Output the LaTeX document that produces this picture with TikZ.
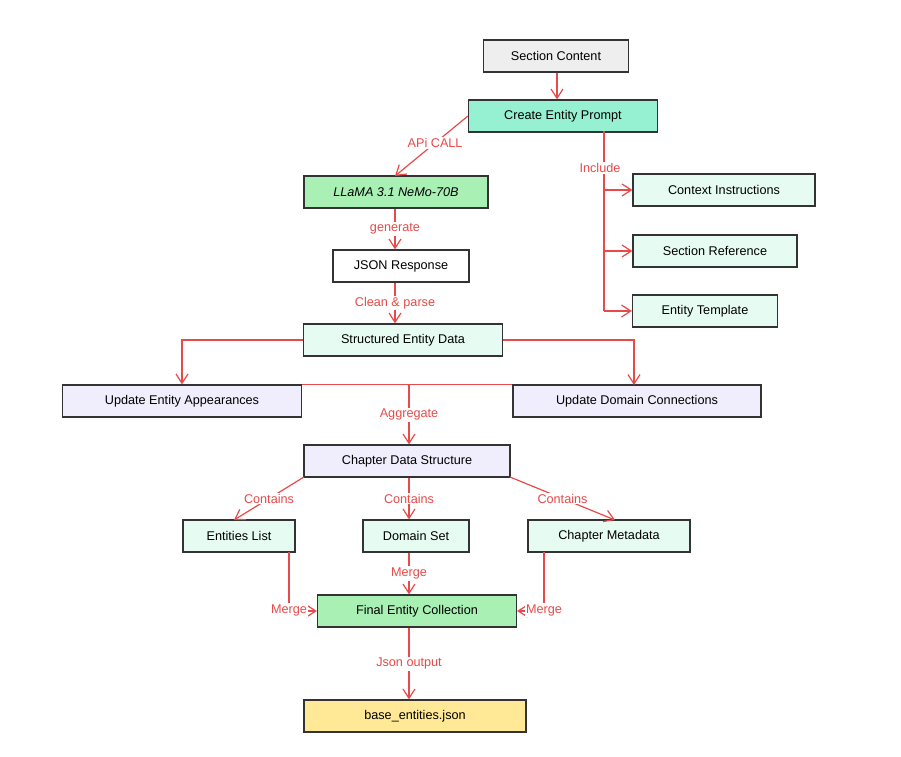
\documentclass[tikz,border=0pt]{standalone}
\usepackage{fontspec}
\setmainfont{Liberation Sans}
\usetikzlibrary{arrows.meta}
\definecolor{ln}{HTML}{E84A4A}
\definecolor{cgrey}{HTML}{EEEEEE}
\definecolor{caqua}{HTML}{96F0D2}
\definecolor{cgreen}{HTML}{A8F0B4}
\definecolor{clight}{HTML}{E6FCF2}
\definecolor{clav}{HTML}{F0EEFC}
\definecolor{cyel}{HTML}{FFE896}
\begin{document}
\begin{tikzpicture}[x=0.75pt,y=-0.75pt,
  box/.style={draw=black!80,line width=0.9pt,minimum height=24pt,inner sep=0pt,font=\fontsize{9.5}{11}\selectfont},
  e/.style={draw=ln,line width=0.9pt,-{Straight Barb[length=7pt,width=9pt]}},
  l/.style={draw=ln,line width=0.9pt},
  lab/.style={text=ln,fill=white,inner sep=1pt,font=\fontsize{9.5}{11}\selectfont}]
\useasboundingbox (0,0) rectangle (901,757);
\node[box,fill=cgrey,minimum width=108.75pt] (sc) at (556,56) {Section Content};
\node[box,fill=caqua,minimum width=141.75pt] (cep) at (563,116) {Create Entity Prompt};
\node[box,fill=cgreen,minimum width=138pt] (ll) at (396,192) {\itshape LLaMA 3.1 NeMo-70B};
\node[box,fill=white,minimum width=102pt] (js) at (401,266) {JSON Response};
\node[box,fill=clight,minimum width=149.25pt] (sed) at (403,340) {Structured Entity Data};
\node[box,fill=clight,minimum width=136.5pt] (ci) at (724,190) {Context Instructions};
\node[box,fill=clight,minimum width=123pt] (sr) at (715,251) {Section Reference};
\node[box,fill=clight,minimum width=108.75pt] (et) at (705,311) {Entity Template};
\node[box,fill=clav,minimum width=179.25pt] (uea) at (182,401) {Update Entity Appearances};
\node[box,fill=clav,minimum width=186pt] (udc) at (637,401) {Update Domain Connections};
\node[box,fill=clav,minimum width=154.5pt] (cds) at (407,461) {Chapter Data Structure};
\node[box,fill=clight,minimum width=84pt] (el) at (239,536) {Entities List};
\node[box,fill=clight,minimum width=79.5pt] (ds) at (416,536) {Domain Set};
\node[box,fill=clight,minimum width=121.5pt] (cm) at (609,536) {Chapter Metadata};
\node[box,fill=cgreen,minimum width=149.25pt] (fec) at (417,611) {Final Entity Collection};
\node[box,fill=cyel,minimum width=166.5pt] (be) at (415,716) {base\_entities.json};

\draw[e] (sc.south -| 557,0) -- (cep.north -| 557,0);
\draw[e] (cep.west) -- (395,176) node[lab,pos=0.45] {APi CALL};
\coordinate (br) at (604,131);
\draw[l] (br) -- (604,311);
\draw[e] (604,190) -- (ci.west);
\draw[e] (604,251) -- (sr.west);
\draw[e] (604,311) -- (et.west);
\node[lab] at (600,168) {Include};
\draw[e] (ll.south -| 395,0) -- (js.north -| 395,0) node[lab,midway] {generate};
\draw[e] (js.south -| 395,0) -- (sed.north -| 395,0) node[lab,midway] {Clean \& parse};
\draw[e] (sed.west) -| (uea.north);
\draw[e] (sed.east) -| (634,385);
\draw[l] (uea.north east) -- (udc.north west);
\draw[e] (409,385) -- (cds.north -| 409,0) node[lab,midway] {Aggregate};
\draw[e] (304,477) -- (234,520) node[lab,midway] {Contains};
\draw[e] (cds.south -| 409,0) -- (ds.north -| 409,0) node[lab,midway] {Contains};
\draw[e] (510,477) -- (615,520) node[lab,midway] {Contains};
\draw[e] (289,552) |- (fec.west);
\node[lab] at (289,610) {Merge};
\draw[e] (ds.south -| 409,0) -- (fec.north -| 409,0) node[lab,midway] {Merge};
\draw[e] (544,552) |- (fec.east);
\node[lab] at (544,610) {Merge};
\draw[e] (fec.south -| 409,0) -- (be.north -| 409,0) node[lab,midway] {Json output};
\end{tikzpicture}
\end{document}
